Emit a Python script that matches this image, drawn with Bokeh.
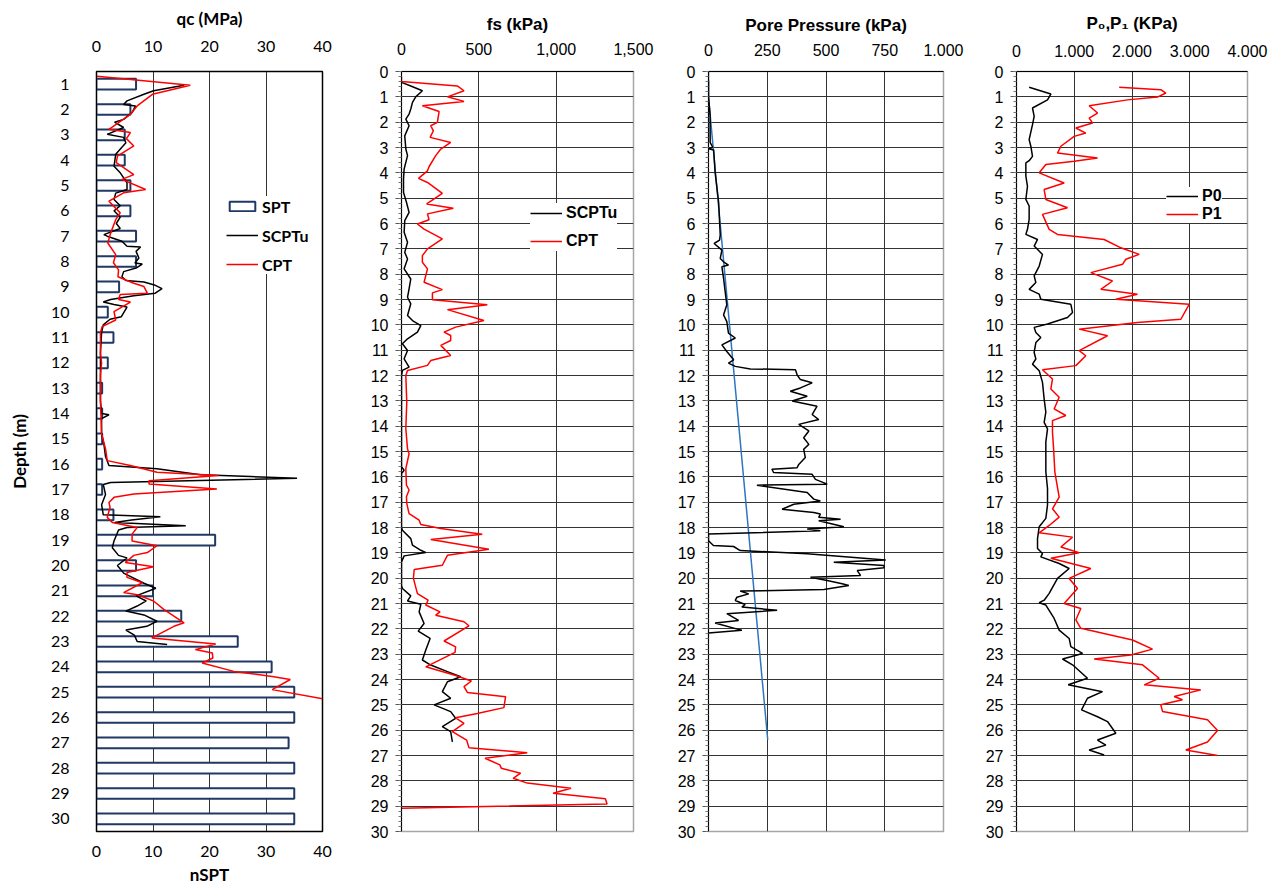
from bokeh.plotting import figure
from bokeh.models import LinearAxis, FixedTicker, Legend, LegendItem, Range1d
from bokeh.layouts import row
from bokeh.embed import file_html
from bokeh.resources import INLINE

# ---------------- Panel 1 : SPT / qc ----------------
spt_depth = list(range(1, 31))
spt_n = [7, 6, 5, 5, 6, 6, 7, 7, 4, 2, 3, 2, 1, 1, 1, 1, 1, 3, 21, 7,
         10, 15, 25, 31, 35, 35, 34, 35, 35, 35]

qc_cpt_depth = [0.69, 1.04, 1.40, 1.86, 2.19, 2.78, 2.91, 3.15, 3.44, 3.84,
                4.10, 4.57, 4.76, 5.16, 5.29, 5.62, 6.08, 6.35, 6.88, 7.27,
                7.73, 8.05, 8.33, 8.60, 8.86, 8.99, 9.25, 9.30, 9.50, 9.60,
                9.98, 10.31, 10.57, 10.80, 11.63, 12.00, 12.50, 13.50, 14.80, 15.40,
                15.86, 16.05, 16.32, 16.45, 16.65, 16.78, 16.98, 17.18, 17.31, 17.51,
                17.70, 18.10, 18.30, 18.50, 18.76, 19.03, 19.22, 19.49, 19.60, 19.88,
                20.05, 20.28, 20.47, 20.68, 21.07, 21.15, 21.40, 21.73, 22.26, 22.40,
                22.86, 23.10, 23.32, 23.45, 23.65, 23.85, 24.18, 24.38, 24.50, 24.90,
                25.26]
qc_cpt = [0.1, 16.6, 9.9, 7.2, 6.0, 2.2, 6.0, 5.3, 6.6, 3.7,
          3.5, 6.6, 4.5, 8.7, 4.8, 2.2, 4.2, 3.4, 2.5, 2.0,
          3.4, 3.0, 3.9, 3.8, 6.6, 8.4, 9.0, 4.2, 3.9, 6.0,
          3.1, 3.4, 1.0, 0.7, 0.7, 0.9, 0.7, 0.7, 0.9, 1.6,
          1.9, 6.0, 10.7, 21.6, 9.3, 9.3, 21.3, 6.6, 3.1, 2.2,
          2.4, 1.9, 2.8, 7.2, 6.3, 6.3, 10.7, 9.0, 6.6, 5.1,
          10.1, 5.4, 5.4, 8.1, 4.8, 7.2, 10.1, 11.9, 15.5, 13.7,
          9.8, 21.1, 17.5, 20.5, 20.6, 18.7, 24.3, 31.1, 34.3, 31.1,
          40.0]

qc_scptu_depth = [1.04, 1.26, 1.40, 1.66, 1.80, 1.86, 2.12, 2.39, 2.50, 2.71,
                  2.98, 3.10, 3.31, 3.77, 4.24, 4.50, 4.89, 5.16, 5.30, 5.55,
                  5.80, 6.00, 6.25, 6.50, 6.70, 6.94, 7.00, 7.20, 7.40, 7.43,
                  7.60, 7.86, 8.06, 8.10, 8.26, 8.40, 8.60, 8.75, 8.81, 8.94,
                  9.07, 9.25, 9.35, 9.50, 9.60, 9.70, 9.80, 10.18, 10.28, 10.50,
                  10.80, 11.60, 13.50, 14.00, 14.05, 14.20, 14.80, 15.20, 15.70, 16.05,
                  16.18, 16.42, 16.49, 16.56, 16.72, 16.80, 17.20, 17.60, 18.00, 18.08,
                  18.20, 18.30, 18.43, 18.50, 18.60, 19.03, 19.30, 19.60, 19.70, 20.00,
                  20.30, 20.70, 20.90, 21.20, 21.40, 21.60, 21.80, 21.95, 22.20, 22.40,
                  22.55, 22.75, 23.00, 23.12]
qc_scptu = [15.5, 10.1, 8.4, 5.4, 4.8, 6.9, 6.3, 4.8, 3.2, 4.8,
            1.9, 4.8, 5.2, 3.4, 3.1, 4.2, 5.4, 5.4, 3.4, 3.1,
            4.2, 3.1, 4.2, 3.5, 4.2, 1.3, 1.9, 4.5, 5.4, 7.8,
            7.0, 7.5, 6.8, 8.1, 7.0, 4.8, 4.5, 5.2, 8.4, 10.4,
            11.6, 10.4, 6.6, 2.5, 1.2, 3.1, 5.4, 4.4, 2.4, 1.2,
            0.9, 0.7, 0.7, 0.9, 2.2, 0.9, 0.9, 1.3, 1.6, 2.2,
            10.7, 18.4, 27.3, 35.5, 2.5, 1.2, 1.6, 0.9, 1.2, 11.3,
            6.2, 3.2, 15.8, 5.4, 3.9, 3.1, 2.8, 3.9, 5.4, 3.7,
            4.8, 8.4, 10.5, 7.0, 8.8, 7.2, 5.2, 8.4, 10.7, 8.9,
            5.2, 6.7, 7.2, 12.5]

qc_ticks = [0, 10, 20, 30, 40]

# ---------------- Panel 2 : fs ----------------
fs_cpt_depth = [0.20, 0.39, 0.57, 0.76, 1.00, 1.18, 1.35, 1.58, 2.01, 2.14,
                2.34, 2.60, 2.80, 3.06, 3.32, 3.76, 3.92, 4.22, 4.38, 4.81,
                5.23, 5.40, 5.62, 5.85, 6.02, 6.22, 6.61, 7.00, 7.27, 7.53,
                7.79, 8.06, 8.32, 8.61, 8.74, 9.01, 9.21, 9.40, 9.83, 10.09,
                10.29, 10.42, 10.62, 10.81, 11.21, 11.41, 11.60, 11.80, 12.00, 13.05,
                14.10, 14.90, 15.09, 15.67, 16.33, 16.52, 16.79, 17.05, 17.45, 17.71,
                17.88, 18.04, 18.27, 18.47, 18.86, 19.10, 19.49, 19.66, 20.01, 20.61,
                20.87, 21.06, 21.33, 21.46, 21.72, 21.88, 22.48, 22.71, 22.93, 23.50,
                23.82, 24.06, 24.28, 24.51, 24.68, 25.11, 25.34, 25.51, 25.73, 26.06,
                26.39, 26.69, 26.89, 27.11, 27.37, 27.50, 27.70, 27.90, 28.09, 28.29,
                28.49, 28.71, 28.91, 29.08]
fs_cpt = [0, 0, 361, 404, 297, 404, 135, 243, 232, 189,
          206, 185, 318, 254, 221, 178, 168, 110, 168, 264,
          163, 335, 168, 178, 103, 146, 264, 168, 135, 135,
          168, 157, 146, 264, 200, 200, 555, 297, 533, 350,
          275, 318, 318, 254, 318, 189, 168, 39, 28, 34,
          28, 39, 49, 28, 32, 49, 32, 34, 49, 114,
          125, 254, 522, 189, 565, 297, 264, 82, 77, 103,
          172, 157, 249, 221, 404, 436, 275, 350, 346, 157,
          340, 452, 404, 426, 673, 662, 490, 350, 404, 329,
          421, 436, 813, 540, 636, 645, 770, 722, 813, 1096,
          980, 1318, 1329, 0]

fs_scptu_depth = [0.43, 0.57, 0.76, 1.00, 1.22, 1.48, 1.68, 1.88, 2.14, 2.54,
                  3.06, 3.32, 3.85, 4.24, 4.77, 5.16, 5.56, 5.89, 6.35, 6.74,
                  7.14, 7.40, 7.79, 8.19, 8.58, 8.91, 9.17, 9.63, 9.83, 10.03,
                  10.29, 10.55, 10.75, 11.01, 11.34, 11.67, 11.80, 12.00, 15.60, 15.74,
                  15.87, 18.00, 18.11, 18.44, 18.70, 18.90, 18.99, 19.12, 19.36, 20.30,
                  20.41, 20.70, 20.90, 21.03, 21.33, 21.79, 22.09, 22.38, 22.84, 23.23,
                  23.43, 23.69, 23.89, 24.09, 24.48, 24.74, 25.00, 25.27, 25.53, 25.86,
                  26.06, 26.46]
fs_scptu = [0, 60, 135, 92, 71, 60, 49, 28, 49, 21,
            28, 39, 17, 13, 13, 32, 49, 21, 17, 39,
            21, 39, 17, 60, 49, 39, 60, 39, 71, 125,
            103, 39, 6, 39, 17, 49, 6, 0, 0, 17,
            0, 0, 6, 60, 71, 125, 157, 17, 0, 0,
            6, 60, 39, 125, 114, 146, 108, 185, 157, 135,
            189, 297, 383, 297, 264, 318, 211, 318, 350, 264,
            318, 329]

fs_ticks = [0, 500, 1000, 1500]
fs_tick_labels = ["0", "500", "1,000", "1,500"]

# ---------------- Panel 3 : pore pressure ----------------
u_depth = [0.37, 1.00, 1.74, 2.80, 2.99, 3.05, 3.10, 3.97, 5.15, 6.46, 6.66,
           6.79, 7.05, 7.38, 7.51, 7.64, 7.71, 8.16, 8.69, 9.21, 9.61,
           9.87, 10.33, 10.52, 10.79, 11.05, 11.38, 11.51, 11.64, 11.74, 11.77,
           11.97, 12.16, 12.29, 12.49, 12.62, 12.82, 13.01, 13.21, 13.54, 13.74,
           13.93, 14.19, 14.46, 14.72, 14.91, 15.24, 15.51, 15.64, 15.70, 15.83,
           15.90, 16.10, 16.29, 16.33, 16.62, 16.88, 16.95, 17.08, 17.28, 17.41,
           17.47, 17.60, 17.67, 17.73, 17.97, 18.06, 18.13, 18.26, 18.52, 18.71,
           18.75, 18.91, 19.04, 19.28, 19.37, 19.50, 19.59, 19.70, 19.89, 19.96,
           20.09, 20.22, 20.29, 20.45, 20.51, 20.62, 20.75, 20.88, 21.04, 21.14,
           21.27, 21.40, 21.67, 21.77, 22.06, 22.16]
u_meas = [0, 0, 7, 7, 18, 0, 22, 28, 43, 50, 47,
          24, 57, 50, 64, 85, 57, 64, 71, 78, 64,
          78, 85, 114, 57, 78, 107, 85, 114, 178, 370,
          377, 391, 441, 391, 348, 420, 356, 462, 441, 469,
          384, 427, 405, 427, 405, 412, 384, 377, 270, 277,
          441, 455, 505, 206, 420, 448, 476, 363, 313, 448,
          476, 469, 562, 469, 576, 420, 476, 0, 0, 21,
          107, 135, 420, 754, 533, 747, 747, 633, 647, 434,
          505, 569, 597, 491, 135, 171, 121, 114, 156, 142,
          292, 78, 128, 28, 142, 0]

u0_depth = [0.0, 1.0, 26.38]
u0 = [0, 0, 252]

u_ticks = [0, 250, 500, 750, 1000]
u_tick_labels = ["0", "250", "500", "750", "1.000"]

# ---------------- Panel 4 : P0, P1 ----------------
p0_depth = [0.62, 0.89, 1.12, 1.44, 1.77, 2.10, 2.69, 2.95, 3.35, 3.52,
            3.61, 4.13, 4.53, 5.05, 5.31, 5.84, 6.23, 6.43, 6.63, 6.89,
            7.22, 7.68, 8.07, 8.33, 8.60, 8.79, 8.99, 9.19, 9.51, 9.71,
            9.97, 10.10, 10.30, 10.50, 10.70, 11.09, 11.35, 11.55, 11.81, 12.27,
            12.93, 13.45, 13.85, 14.11, 14.63, 15.80, 16.46, 17.11, 17.64, 17.97,
            18.44, 18.83, 19.03, 19.16, 19.42, 19.62, 20.01, 20.60, 20.87, 20.97,
            21.06, 21.59, 22.05, 22.38, 22.70, 22.97, 23.10, 23.19, 23.42, 23.95,
            24.21, 24.48, 24.74, 25.20, 25.47, 25.66, 26.12, 26.39, 26.59, 26.78,
            26.98]
p0 = [219, 595, 537, 277, 306, 277, 219, 248, 277, 219,
      162, 162, 190, 162, 219, 219, 190, 162, 364, 306,
      450, 393, 306, 335, 219, 393, 421, 941, 970, 883,
      537, 306, 335, 421, 335, 306, 335, 277, 393, 450,
      479, 508, 479, 537, 508, 508, 537, 537, 508, 393,
      364, 364, 450, 421, 739, 912, 710, 566, 479, 393,
      508, 652, 739, 912, 941, 1143, 941, 797, 970, 1229,
      895, 1489, 1229, 1126, 1403, 1576, 1720, 1403, 1547, 1258,
      1518]

p1_depth = [0.62, 0.72, 0.85, 1.01, 1.12, 1.35, 1.64, 1.84, 2.03, 2.23,
            2.43, 2.56, 2.95, 3.22, 3.41, 3.54, 3.67, 4.00, 4.40, 4.66,
            5.05, 5.38, 5.64, 6.23, 6.43, 6.63, 6.96, 7.22, 7.41, 7.61,
            7.94, 8.27, 8.60, 8.79, 8.99, 9.19, 9.78, 9.91, 10.17, 10.43,
            11.02, 11.22, 11.61, 11.77, 12.14, 12.53, 12.86, 13.32, 13.58, 13.78,
            14.24, 14.83, 15.81, 16.80, 17.26, 17.59, 17.92, 18.21, 18.38, 18.77,
            19.00, 19.21, 19.62, 20.01, 20.41, 21.00, 21.20, 21.65, 21.98, 22.44,
            22.80, 23.03, 23.19, 23.42, 23.95, 24.21, 24.41, 24.67, 24.80, 25.00,
            25.26, 25.59, 26.01, 26.47, 26.78, 27.00]
p1 = [1778, 2499, 2586, 2441, 1922, 1258, 1403, 1258, 1316, 1027,
      1200, 999, 768, 710, 1403, 999, 508, 393, 825, 479,
      508, 883, 450, 566, 710, 1518, 1807, 2124, 1893, 1836,
      1287, 1662, 1460, 2095, 1720, 2990, 2846, 2095, 1085, 1576,
      1085, 1200, 1027, 450, 623, 595, 739, 652, 854, 623,
      623, 641, 664, 739, 623, 739, 566, 393, 970, 768,
      1085, 595, 1287, 912, 1056, 825, 1114, 1027, 1114, 2009,
      2355, 1980, 1345, 2182, 2470, 2211, 3192, 2730, 2874, 2499,
      2528, 3307, 3481, 3307, 2932, 3481]

p_ticks = [0, 1000, 2000, 3000, 4000]
p_tick_labels = ["0", "1.000", "2.000", "3.000", "4.000"]

depth_ticks = list(range(0, 31))
depth_minor = [i / 5 for i in range(0, 151)]

# ---------------- styling helpers ----------------
ARIAL = "Liberation Sans"
CALIBRI = "Lato"
GRID = "#333333"
NAVY = "#1F3864"
LW = 1.5

HEIGHT = 889
TOP = 71
BOTTOM = 58
FRAME_BOTTOM = HEIGHT - BOTTOM


def base_fig(width, xr, yr, left, right):
    return figure(width=width, height=HEIGHT, x_range=Range1d(*xr),
                  y_range=Range1d(*yr), x_axis_location="above",
                  output_backend="svg", toolbar_location=None,
                  min_border_left=left, min_border_right=right,
                  min_border_top=TOP, min_border_bottom=BOTTOM,
                  background_fill_color="white", border_fill_color="white")


def style_top_axis(ax, ticks, labels, font, label, lab_standoff, title_standoff):
    ax.ticker = FixedTicker(ticks=ticks)
    ax.major_label_overrides = {t: s for t, s in zip(ticks, labels)}
    ax.axis_label = label
    ax.axis_label_text_font = font
    ax.axis_label_text_font_style = "bold"
    ax.axis_label_text_font_size = "17px"
    ax.axis_label_text_color = "black"
    ax.axis_label_standoff = title_standoff
    ax.major_label_text_font = font
    ax.major_label_text_font_size = "16px"
    ax.major_label_text_color = "black"
    ax.major_label_standoff = lab_standoff
    ax.major_tick_out = 0
    ax.major_tick_in = 0
    ax.minor_tick_out = 0
    ax.minor_tick_in = 0
    ax.major_tick_line_color = None
    ax.minor_tick_line_color = None
    ax.axis_line_color = "black"
    ax.axis_line_width = 1


def style_depth_axis(ax):
    ax.ticker = FixedTicker(ticks=depth_ticks, minor_ticks=depth_minor)
    ax.major_label_text_font = ARIAL
    ax.major_label_text_font_size = "16px"
    ax.major_label_text_color = "black"
    ax.major_label_standoff = 7
    ax.major_tick_out = 6
    ax.major_tick_in = 0
    ax.minor_tick_out = 3
    ax.minor_tick_in = 0
    ax.major_tick_line_color = "#555555"
    ax.minor_tick_line_color = "#777777"
    ax.axis_line_color = "black"
    ax.axis_line_width = 1


def make_legend(items, screen_left, screen_top, frame_left, font, spacing,
                label_h, pad):
    n = len(items)
    h = 2 * pad + n * label_h + (n - 1) * spacing
    loc = (screen_left - frame_left, FRAME_BOTTOM - (screen_top + h))
    leg = Legend(items=items, location=loc, orientation="vertical")
    leg.label_text_font = font
    leg.label_text_font_style = "bold"
    leg.label_text_font_size = "16px"
    leg.label_text_color = "black"
    leg.glyph_width = 32
    leg.glyph_height = 12
    leg.label_height = label_h
    leg.label_standoff = 4
    leg.spacing = spacing
    leg.padding = pad
    leg.margin = 0
    leg.border_line_color = None
    leg.background_fill_color = "white"
    leg.background_fill_alpha = 1.0
    return leg


# ---------------- Panel 1 ----------------
f1 = base_fig(340, (0, 40), (30.5, 0.5), 96, 18)
f1.outline_line_color = "black"
f1.outline_line_width = 1.5
bars = f1.hbar(y=spt_depth, left=0, right=spt_n, height=0.42,
               fill_color="white", line_color=NAVY, line_width=2)
l_scptu1 = f1.line(qc_scptu, qc_scptu_depth, line_color="black", line_width=LW)
l_cpt1 = f1.line(qc_cpt, qc_cpt_depth, line_color="#FF0000", line_width=LW)

style_top_axis(f1.xaxis[0], qc_ticks, [str(t) for t in qc_ticks], CALIBRI,
               "qc (MPa)", 20, 9)
bottom_ax = LinearAxis()
style_top_axis(bottom_ax, qc_ticks, [str(t) for t in qc_ticks], CALIBRI,
               "nSPT", 14, 4)
f1.add_layout(bottom_ax, "below")

ya = f1.yaxis[0]
ya.ticker = FixedTicker(ticks=spt_depth)
ya.major_label_text_font = CALIBRI
ya.major_label_text_font_size = "16px"
ya.major_label_text_color = "black"
ya.major_label_standoff = 27
ya.major_tick_out = 0
ya.major_tick_in = 0
ya.major_tick_line_color = None
ya.minor_tick_line_color = None
ya.axis_line_color = "black"
ya.axis_label = "Depth (m)"
ya.axis_label_text_font = CALIBRI
ya.axis_label_text_font_style = "bold"
ya.axis_label_text_font_size = "17px"
ya.axis_label_text_color = "black"
ya.axis_label_standoff = 18

f1.ygrid.grid_line_color = None
f1.xgrid.grid_line_color = GRID
f1.xgrid.grid_line_width = 1

leg1 = make_legend([LegendItem(label="SPT", renderers=[bars]),
                    LegendItem(label="SCPTu", renderers=[l_scptu1]),
                    LegendItem(label="CPT", renderers=[l_cpt1])],
                   226, 184, 96, CALIBRI, 9, 20, 6)
f1.add_layout(leg1)

# ---------------- Panel 2 ----------------
f2 = base_fig(320, (0, 1500), (30, 0), 61, 27)
f2.outline_line_color = "#a6a6a6"
f2.outline_line_width = 1.5
l_scptu2 = f2.line(fs_scptu, fs_scptu_depth, line_color="black", line_width=LW)
l_cpt2 = f2.line(fs_cpt, fs_cpt_depth, line_color="#FF0000", line_width=LW)
style_top_axis(f2.xaxis[0], fs_ticks, fs_tick_labels, ARIAL, "fs (kPa)", 17, 6)
style_depth_axis(f2.yaxis[0])
for g in (f2.xgrid, f2.ygrid):
    g.grid_line_color = GRID
    g.grid_line_width = 1
leg2 = make_legend([LegendItem(label="SCPTu", renderers=[l_scptu2]),
                    LegendItem(label="CPT", renderers=[l_cpt2])],
                   530, 195, 401, ARIAL, 8, 20, 4)
f2.add_layout(leg2)

# ---------------- Panel 3 ----------------
f3 = base_fig(320, (0, 1000), (30, 0), 48, 37)
f3.outline_line_color = "#a6a6a6"
f3.outline_line_width = 1.5
f3.line(u0, u0_depth, line_color="#2E75C0", line_width=LW)
f3.line(u_meas, u_depth, line_color="black", line_width=LW)
style_top_axis(f3.xaxis[0], u_ticks, u_tick_labels, ARIAL,
               "Pore Pressure (kPa)", 16, 6)
style_depth_axis(f3.yaxis[0])
for g in (f3.xgrid, f3.ygrid):
    g.grid_line_color = GRID
    g.grid_line_width = 1

# ---------------- Panel 4 ----------------
f4 = base_fig(295, (0, 4000), (30, 0), 36, 28)
f4.outline_line_color = "#a6a6a6"
f4.outline_line_width = 1.5
l_p0 = f4.line(p0, p0_depth, line_color="black", line_width=LW)
l_p1 = f4.line(p1, p1_depth, line_color="#FF0000", line_width=LW)
style_top_axis(f4.xaxis[0], p_ticks, p_tick_labels, ARIAL,
               "P\u2080,P\u2081 (KPa)", 15, 9)
style_depth_axis(f4.yaxis[0])
for g in (f4.xgrid, f4.ygrid):
    g.grid_line_color = GRID
    g.grid_line_width = 1
leg4 = make_legend([LegendItem(label="P0", renderers=[l_p0]),
                    LegendItem(label="P1", renderers=[l_p1])],
                   1166, 179, 1016, ARIAL, 0, 18, 4)
f4.add_layout(leg4)

layout = row(f1, f2, f3, f4)
open("out.html", "w").write(file_html(layout, INLINE))
